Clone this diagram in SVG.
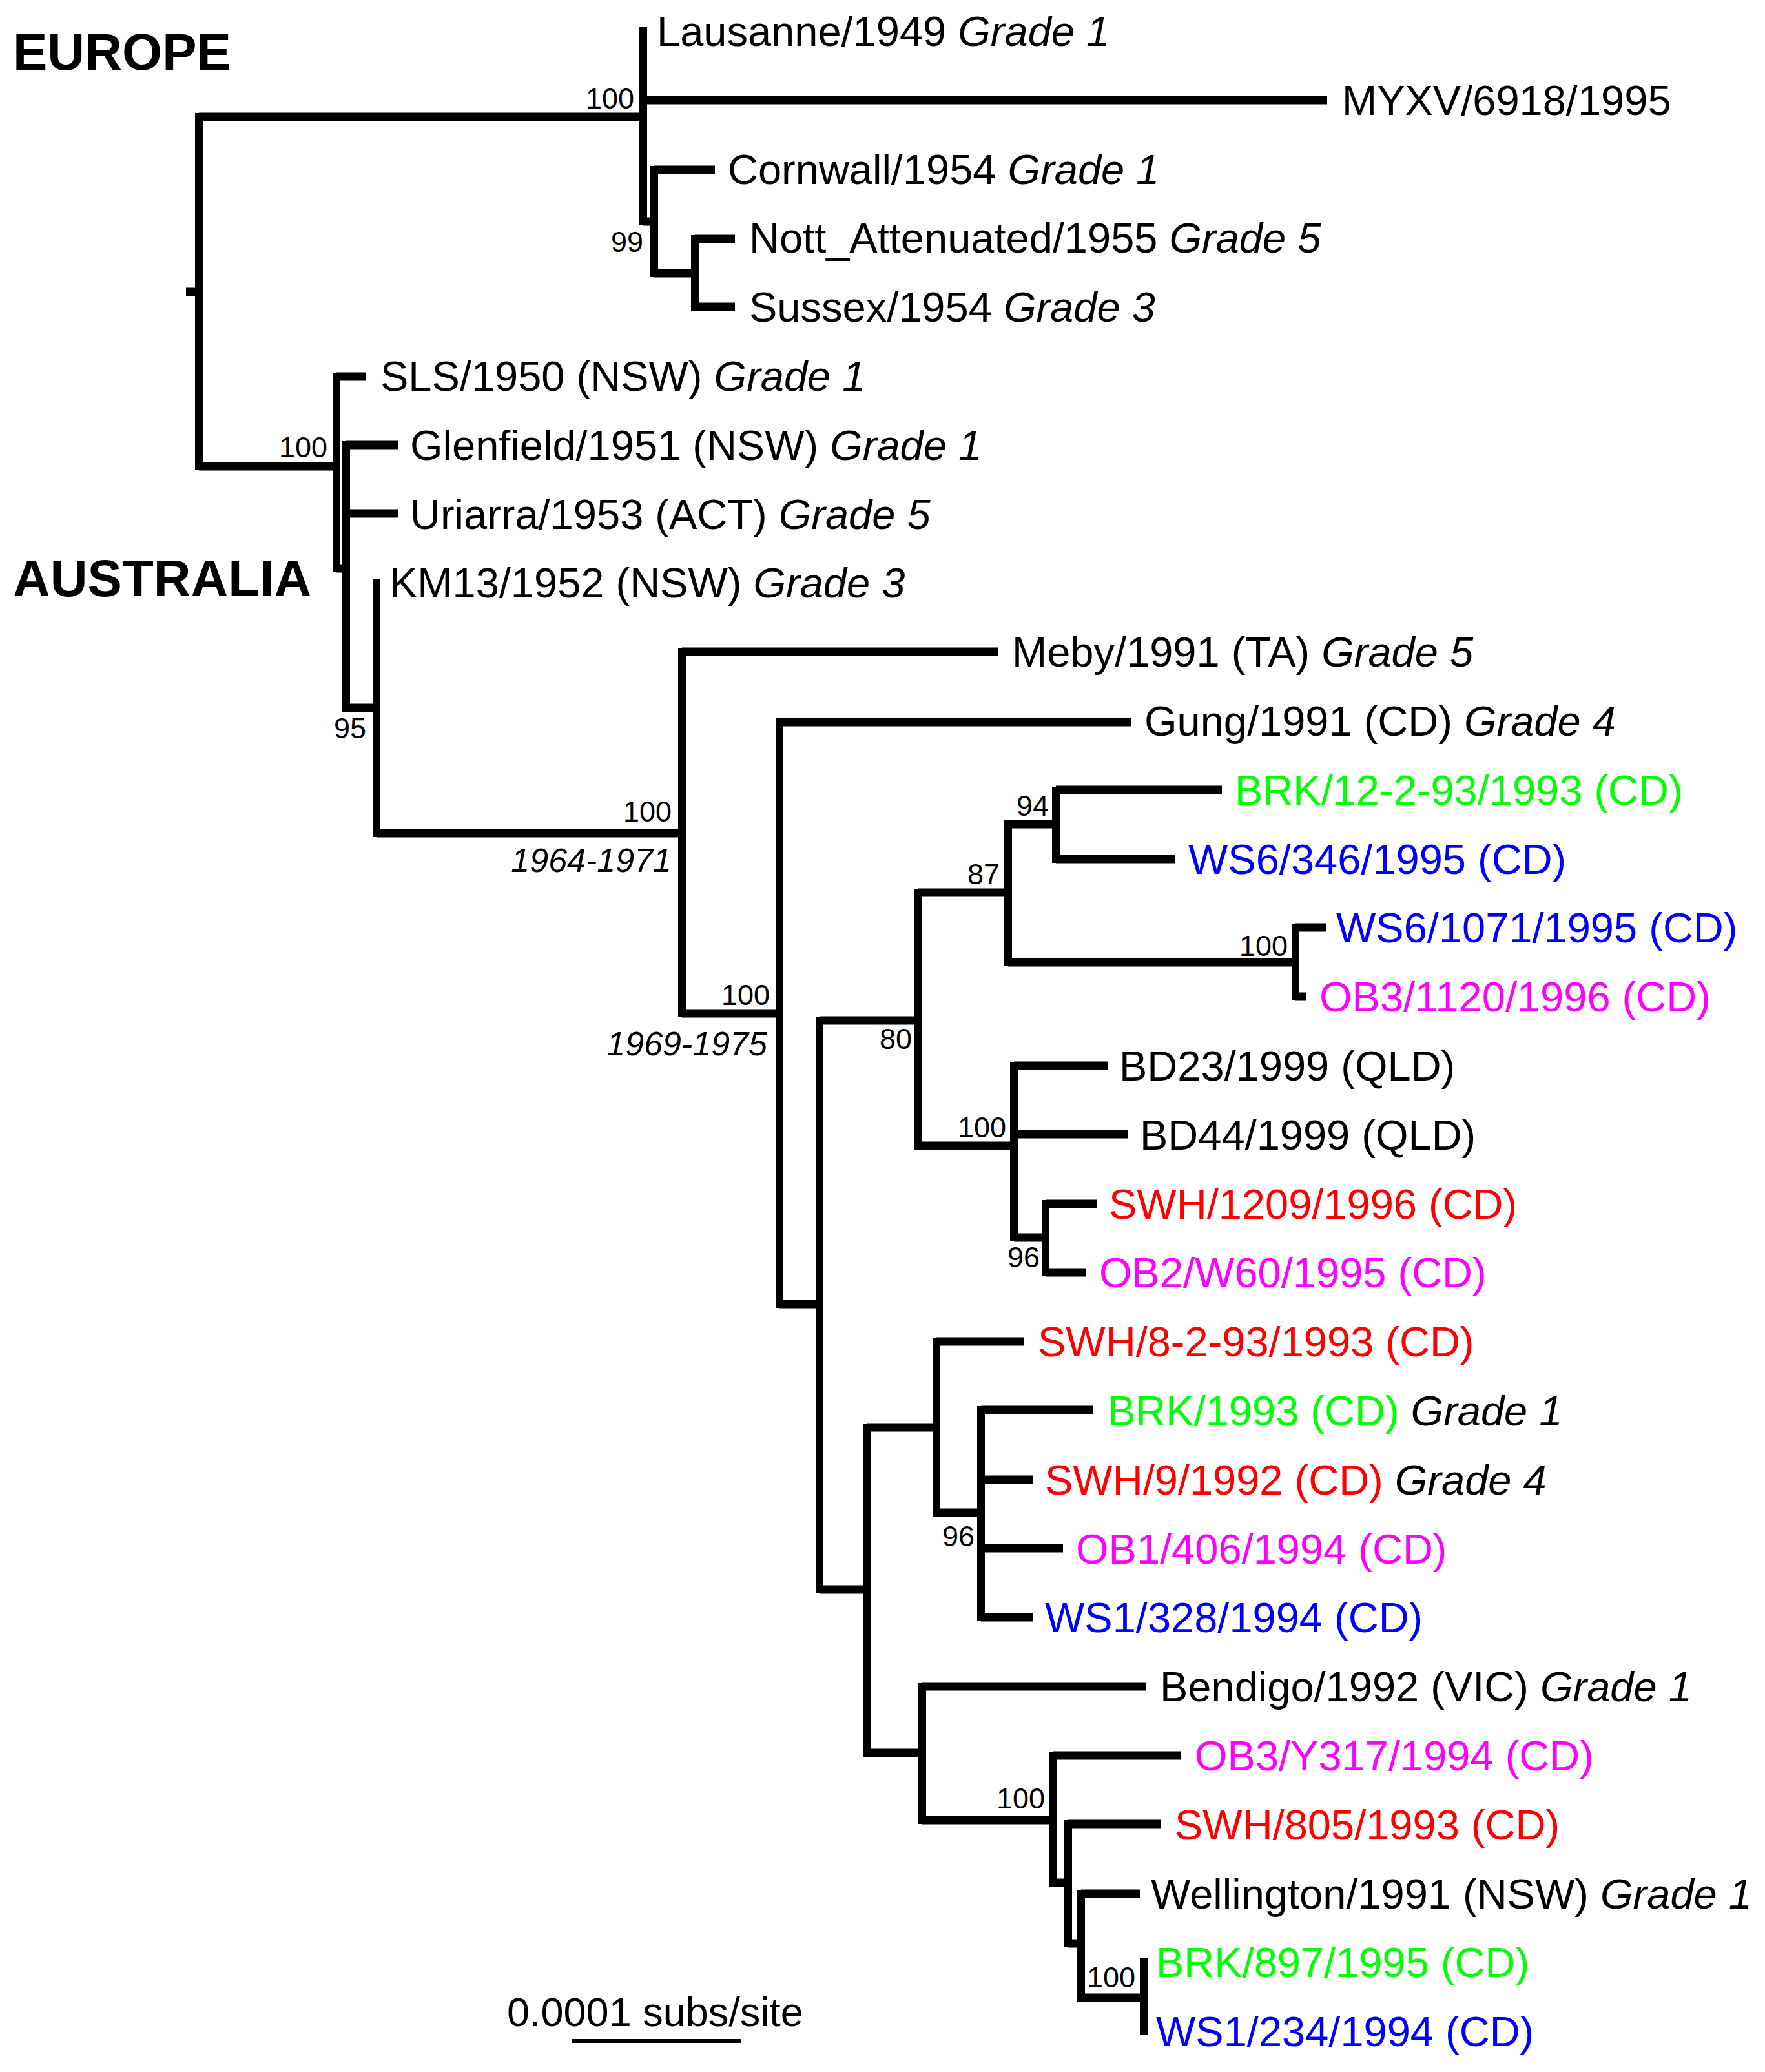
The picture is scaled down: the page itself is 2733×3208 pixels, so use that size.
<svg xmlns="http://www.w3.org/2000/svg" width="2733" height="3208" viewBox="0 0 2733 3208">
<style>
text{font-family:"Liberation Sans",Arial,sans-serif;fill:#000}
.lab{font-size:65px}
.it{font-style:italic;fill:#000}
.bs{font-size:45px;text-anchor:end}
.date{font-size:52px;font-style:italic;text-anchor:end}
.reg{font-size:80px;font-weight:bold}
.g{fill:#00FF00}.b{fill:#0000FF}.m{fill:#FF00FF}.r{fill:#FF0000}
.v{stroke:#000;stroke-width:12;stroke-linecap:square;fill:none}
.h{stroke:#000;stroke-width:13;stroke-linecap:butt;fill:none}
</style>
<rect width="2733" height="3208" fill="#fff"/>
<g id="connectors">
<path class="v" d="M308,181V722M996,48V343M1013,263V423M1076,370V475M521,583V880M536,689V1096M583,902V1290M1056,1009V1569M1207,1118V2019M1269,1580V2461M1422,1382V1774M1561,1276V1490M1635,1224V1330M2006,1436V1543M1570,1650V1916M1619,1864V1970M1342,2210V2714M1450,2077V2342M1519,2183V2504M1428,2611V2818M1631,2718V2915M1654,2824V3009M1674,2932V3093M1771,3038V3145"/>
<path class="h" d="M288,452H308M308,181H996M996,155H2055M996,343H1013M1013,263H1107M1013,423H1076M1076,370H1138M1076,475H1138M308,722H521M521,583H567M521,880H536M536,689H617M536,795H617M536,1096H583M583,1290H1056M1056,1009H1546M1056,1569H1207M1207,1118H1751M1207,2019H1269M1269,1580H1422M1422,1382H1561M1561,1276H1635M1635,1223H1892M1635,1330H1819M1561,1490H2006M2006,1436H2053M2006,1543H2022M1422,1774H1570M1570,1650H1715M1570,1756H1746M1570,1916H1619M1619,1864H1699M1619,1970H1681M1269,2461H1342M1342,2210H1450M1450,2077H1586M1450,2342H1519M1519,2183H1692M1519,2291H1600M1519,2397H1646M1519,2504H1600M1342,2714H1428M1428,2611H1775M1428,2818H1631M1631,2718H1829M1631,2915H1654M1654,2824H1798M1654,3009H1674M1674,2932H1765M1674,3093H1771"/>
</g>
<g id="regions">
<text class="reg" x="20" y="108">EUROPE</text>
<text class="reg" x="20" y="923">AUSTRALIA</text>
</g>
<g id="leaves" class="lab">
<g id="n-lausanne"><text class="lab" x="1017" y="71">Lausanne/1949 <tspan class="it">Grade 1</tspan></text></g>
<g id="n-myxv"><text class="lab" x="2078" y="178">MYXV/6918/1995</text></g>
<g id="n-cornwall"><text class="lab" x="1127" y="285">Cornwall/1954 <tspan class="it">Grade 1</tspan></text></g>
<g id="n-nott"><text class="lab" x="1160" y="391">Nott_Attenuated/1955 <tspan class="it">Grade 5</tspan></text></g>
<g id="n-sussex"><text class="lab" x="1160" y="498">Sussex/1954 <tspan class="it">Grade 3</tspan></text></g>
<g id="n-sls"><text class="lab" x="589" y="605">SLS/1950 (NSW) <tspan class="it">Grade 1</tspan></text></g>
<g id="n-glenfield"><text class="lab" x="635" y="712">Glenfield/1951 (NSW) <tspan class="it">Grade 1</tspan></text></g>
<g id="n-uriarra"><text class="lab" x="635" y="819">Uriarra/1953 (ACT) <tspan class="it">Grade 5</tspan></text></g>
<g id="n-km13"><text class="lab" x="603" y="925">KM13/1952 (NSW) <tspan class="it">Grade 3</tspan></text></g>
<g id="n-meby"><text class="lab" x="1567" y="1032">Meby/1991 (TA) <tspan class="it">Grade 5</tspan></text></g>
<g id="n-gung"><text class="lab" x="1772" y="1139">Gung/1991 (CD) <tspan class="it">Grade 4</tspan></text></g>
<g id="n-brk12"><text class="lab g" x="1912" y="1246">BRK/12-2-93/1993 (CD)</text></g>
<g id="n-ws6-346"><text class="lab b" x="1840" y="1353">WS6/346/1995 (CD)</text></g>
<g id="n-ws6-1071"><text class="lab b" x="2069" y="1459">WS6/1071/1995 (CD)</text></g>
<g id="n-ob3-1120"><text class="lab m" x="2043" y="1566">OB3/1120/1996 (CD)</text></g>
<g id="n-bd23"><text class="lab" x="1733" y="1673">BD23/1999 (QLD)</text></g>
<g id="n-bd44"><text class="lab" x="1765" y="1780">BD44/1999 (QLD)</text></g>
<g id="n-swh1209"><text class="lab r" x="1717" y="1887">SWH/1209/1996 (CD)</text></g>
<g id="n-ob2"><text class="lab m" x="1702" y="1993">OB2/W60/1995 (CD)</text></g>
<g id="n-swh8"><text class="lab r" x="1607" y="2100">SWH/8-2-93/1993 (CD)</text></g>
<g id="n-brk1993"><text class="lab" x="1715" y="2207"><tspan class="g">BRK/1993 (CD)</tspan> <tspan class="it">Grade 1</tspan></text></g>
<g id="n-swh9"><text class="lab" x="1618" y="2314"><tspan class="r">SWH/9/1992 (CD)</tspan> <tspan class="it">Grade 4</tspan></text></g>
<g id="n-ob1"><text class="lab m" x="1666" y="2421">OB1/406/1994 (CD)</text></g>
<g id="n-ws1-328"><text class="lab b" x="1618" y="2527">WS1/328/1994 (CD)</text></g>
<g id="n-bendigo"><text class="lab" x="1796" y="2634">Bendigo/1992 (VIC) <tspan class="it">Grade 1</tspan></text></g>
<g id="n-ob3-y317"><text class="lab m" x="1850" y="2741">OB3/Y317/1994 (CD)</text></g>
<g id="n-swh805"><text class="lab r" x="1819" y="2848">SWH/805/1993 (CD)</text></g>
<g id="n-wellington"><text class="lab" x="1782" y="2955">Wellington/1991 (NSW) <tspan class="it">Grade 1</tspan></text></g>
<g id="n-brk897"><text class="lab g" x="1790" y="3061">BRK/897/1995 (CD)</text></g>
<g id="n-ws1-234"><text class="lab b" x="1790" y="3168">WS1/234/1994 (CD)</text></g>
</g>
<g id="support">
<text class="bs" x="982" y="168">100</text>
<text class="bs" x="996" y="390">99</text>
<text class="bs" x="507" y="708">100</text>
<text class="bs" x="567" y="1143">95</text>
<text class="bs" x="1040" y="1272">100</text>
<text class="bs" x="1192" y="1556">100</text>
<text class="bs" x="1624" y="1263">94</text>
<text class="bs" x="1548" y="1369">87</text>
<text class="bs" x="1994" y="1480">100</text>
<text class="bs" x="1412" y="1624">80</text>
<text class="bs" x="1558" y="1761">100</text>
<text class="bs" x="1610" y="1962">96</text>
<text class="bs" x="1509" y="2394">96</text>
<text class="bs" x="1618" y="2800">100</text>
<text class="bs" x="1758" y="3077">100</text>
<text class="date" x="1040" y="1350">1964-1971</text>
<text class="date" x="1188" y="1634">1969-1975</text>
</g>
<g id="scale">
<text x="785" y="3137" style="font-size:63px">0.0001 subs/site</text>
<path d="M886,3160H1148" stroke="#000" stroke-width="6"/>
</g>
</svg>
